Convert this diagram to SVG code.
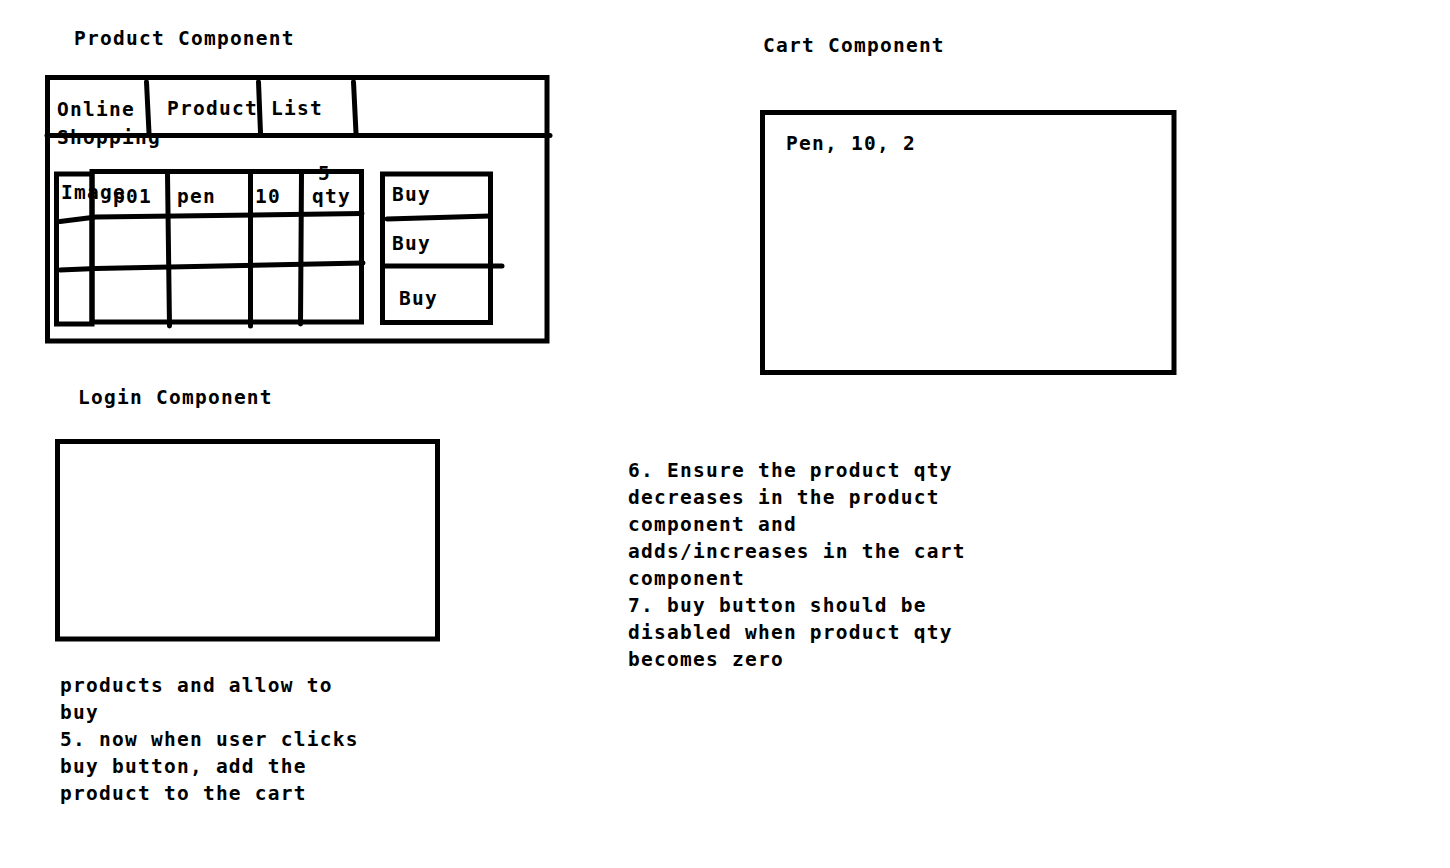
<svg xmlns="http://www.w3.org/2000/svg" width="1450" height="868" viewBox="0 0 1450 868">
  <style>
    text { font-family: "DejaVu Sans Mono", "Liberation Mono", monospace; font-size: 19.5px; font-weight: bold; letter-spacing: 1.25px; fill: #000; }
    .box { fill: none; stroke: #000; stroke-width: 5; }
    .ink { fill: none; stroke: #000; stroke-width: 5; stroke-linecap: round; stroke-linejoin: round; }
  </style>
  <rect width="1450" height="868" fill="#fff"/>

  <!-- Product component sketch -->
  <g id="product-component">
    <text x="74" y="45">Product Component</text>
    <rect class="box" x="47.5" y="77.5" width="499.5" height="263.5"/>
    <!-- header bar -->
    <path class="ink" d="M47 135.5 L550 135.5"/>
    <path class="ink" d="M146.5 82 L149 133"/>
    <path class="ink" d="M258.5 82 L260.5 133"/>
    <path class="ink" d="M353.5 82 L356 133"/>
    <text x="57" y="116">Online</text>
    <text x="57" y="144">Shopping</text>
    <text x="167" y="115">Product List</text>
    <!-- product table -->
    <rect class="box" x="56.5" y="174" width="35.5" height="150"/>
    <rect class="box" x="92" y="171.5" width="269.5" height="150.5"/>
    <path class="ink" d="M167.5 174 L169.5 326"/>
    <path class="ink" d="M250.5 174 L250.5 326"/>
    <path class="ink" d="M301.5 174 L300.5 324"/>
    <path class="ink" d="M60 221.5 L96 217 L362 213.5"/>
    <path class="ink" d="M60 270 L96 268.5 L363 263"/>
    <text x="61" y="199">Image</text>
    <text x="113" y="203">p01</text>
    <text x="177" y="203">pen</text>
    <text x="255" y="203">10</text>
    <text x="312" y="203">qty</text>
    <text x="318" y="180">5</text>
    <!-- buy buttons -->
    <rect class="box" x="382.5" y="174" width="108" height="148.5"/>
    <path class="ink" d="M387 219 L490 216"/>
    <path class="ink" d="M383 266 L502 266"/>
    <text x="392" y="201">Buy</text>
    <text x="392" y="250">Buy</text>
    <text x="399" y="305">Buy</text>
  </g>

  <!-- Cart component sketch -->
  <g id="cart-component">
    <text x="763" y="52">Cart Component</text>
    <rect class="box" x="762.5" y="112.5" width="411.5" height="260"/>
    <text x="786" y="150">Pen, 10, 2</text>
  </g>

  <!-- Login component sketch -->
  <g id="login-component">
    <text x="78" y="404">Login Component</text>
    <rect class="box" x="57.5" y="441.5" width="380" height="197.5"/>
  </g>

  <!-- Requirement notes -->
  <g id="notes-left">
    <text x="60" y="692">products and allow to</text>
    <text x="60" y="719">buy</text>
    <text x="60" y="746">5. now when user clicks</text>
    <text x="60" y="773">buy button, add the</text>
    <text x="60" y="800">product to the cart</text>
  </g>
  <g id="notes-right">
    <text x="628" y="477">6. Ensure the product qty</text>
    <text x="628" y="504">decreases in the product</text>
    <text x="628" y="531">component and</text>
    <text x="628" y="558">adds/increases in the cart</text>
    <text x="628" y="585">component</text>
    <text x="628" y="612">7. buy button should be</text>
    <text x="628" y="639">disabled when product qty</text>
    <text x="628" y="666">becomes zero</text>
  </g>
</svg>
